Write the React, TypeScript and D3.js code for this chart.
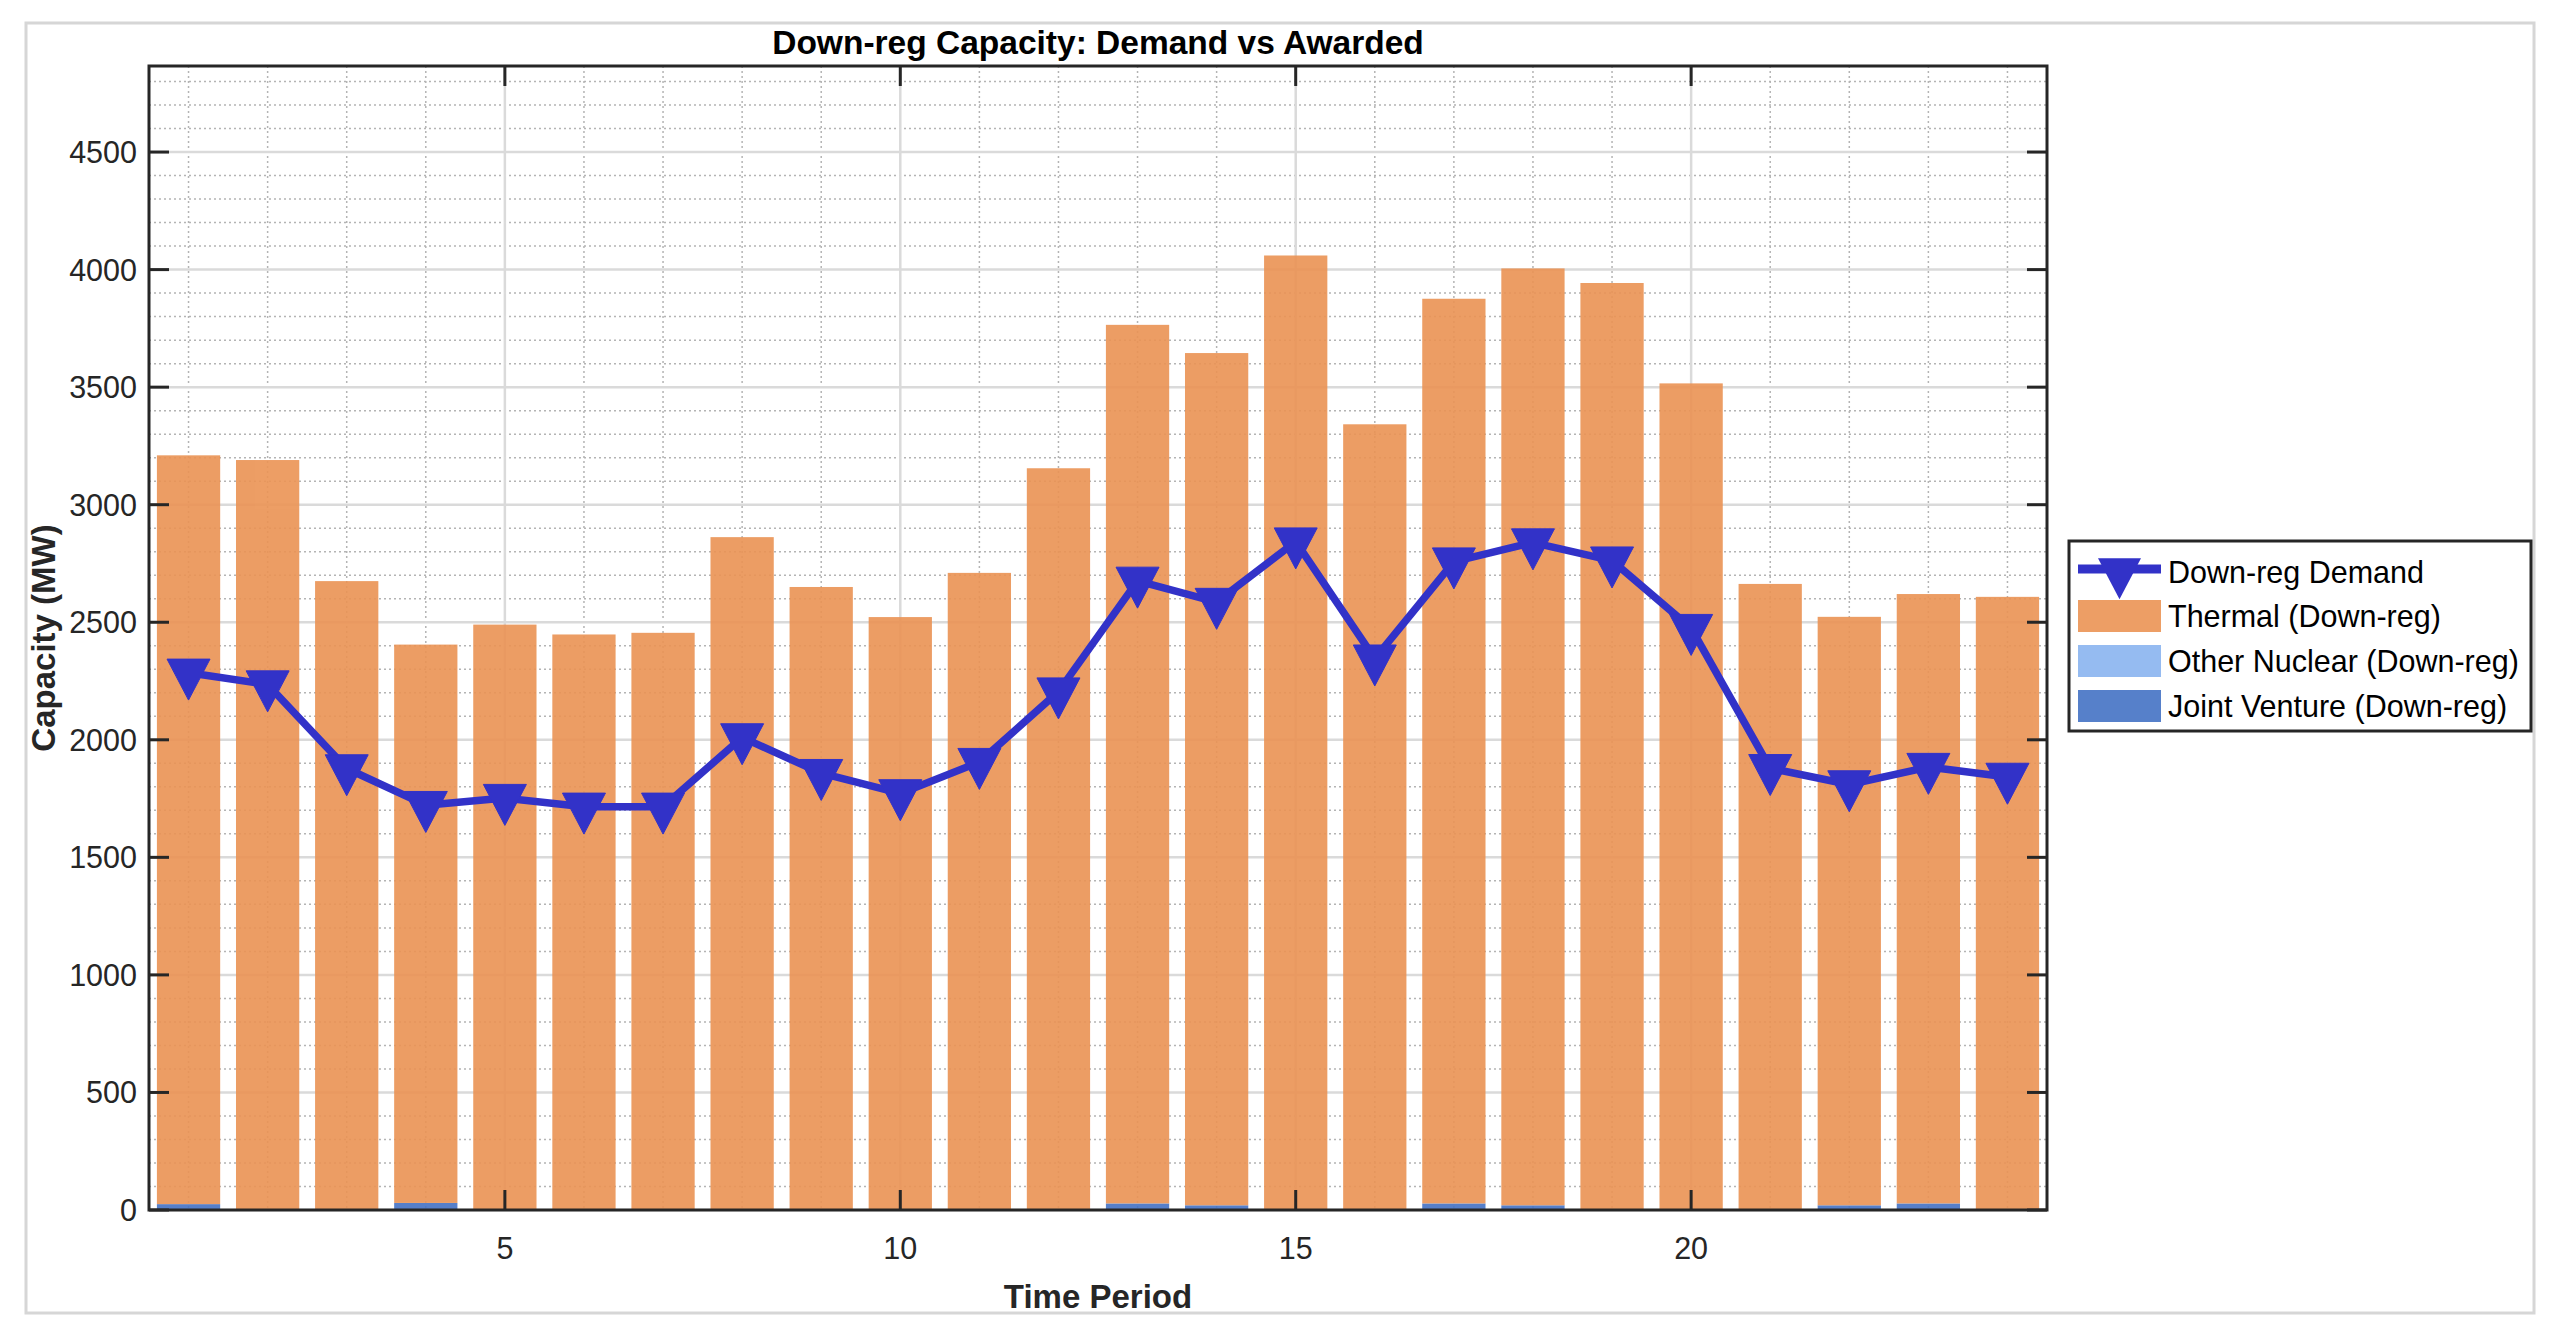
import React from "react";
import * as d3 from "d3";

// ---- Data ----
const periods: number[] = Array.from({ length: 24 }, (_, i) => i + 1);
const barTotals: number[] = [3210, 3190, 2675, 2405, 2490, 2448, 2455, 2862, 2650, 2522, 2710, 3155, 3765, 3645, 4060, 3342, 3876, 4005, 3943, 3516, 2663, 2523, 2620, 2608];
const jointVenture: number[] = [25, 0, 0, 30, 0, 0, 0, 0, 0, 0, 0, 0, 28, 20, 0, 0, 28, 20, 0, 0, 0, 20, 28, 0];
const otherNuclear: number[] = [0, 0, 0, 0, 0, 0, 0, 0, 0, 0, 0, 0, 0, 0, 0, 0, 0, 0, 0, 0, 0, 0, 0, 0];
const thermal: number[] = barTotals.map((t, i) => t - jointVenture[i] - otherNuclear[i]);
const demand: number[] = [2285, 2235, 1878, 1722, 1752, 1715, 1715, 2010, 1858, 1772, 1905, 2205, 2676, 2586, 2843, 2345, 2758, 2839, 2762, 2475, 1879, 1810, 1884, 1842];

const yTicks: number[] = [0, 500, 1000, 1500, 2000, 2500, 3000, 3500, 4000, 4500];
const xTicks: number[] = [5, 10, 15, 20];
const legendLabels: string[] = ["Down-reg Demand", "Thermal (Down-reg)", "Other Nuclear (Down-reg)", "Joint Venture (Down-reg)"];
const titleText = "Down-reg Capacity: Demand vs Awarded";
const xLabel = "Time Period";
const yLabel = "Capacity (MW)";
const yMax = 4866;

const COLORS = {
  thermal: "#eb9354",
  nuclear: "#8ab4f0",
  jv: "#4472c4",
  demand: "#3232c8",
};

const FONT = "'Liberation Sans', Arial, Helvetica, sans-serif";

export default function App() {
  const W = 2555, H = 1338;
  const L = 149, R = 2047, T = 66, B = 1210;
  const x = d3.scaleLinear().domain([0.5, 24.5]).range([L, R]);
  const y = d3.scaleLinear().domain([0, yMax]).range([B, T]);
  const bw = x(1.8) - x(1); // 0.8 unit bar width

  const minorY = d3.range(100, yMax, 100).filter((v) => v % 500 !== 0);
  const minorX = periods.filter((p) => p % 5 !== 0);

  const lineGen = d3
    .line<number>()
    .x((_, i) => x(periods[i]))
    .y((d) => y(d));

  const tri = (cx: number, cy: number) => {
    const hw = 21.5, up = 13.7, down = 27.3;
    return `M${cx - hw},${cy - up}L${cx + hw},${cy - up}L${cx},${cy + down}Z`;
  };

  const tickLen = 20;

  // Legend geometry
  const lgX = 2069, lgY = 541, lgW = 462, lgH = 190;
  const rowY = [572, 616, 661, 706];
  const swX = 2078, swW = 83, swH = 32;
  const txtX = 2168;

  return (
    <svg
      width={W}
      height={H}
      style={{ position: "absolute", left: 0, top: 0, background: "#fff" }}
      fontFamily={FONT}
    >
      <rect x={0} y={0} width={W} height={H} fill="#fff" />
      {/* outer frame */}
      <rect x={26} y={23} width={2534 - 26} height={1313 - 23} fill="none" stroke="#d6d6d6" strokeWidth={3} />

      {/* minor grid */}
      <g stroke="#b4b4b4" strokeWidth={1.5} strokeDasharray="2,3">
        {minorY.map((v) => (
          <line key={"my" + v} x1={L} x2={R} y1={y(v)} y2={y(v)} />
        ))}
        {minorX.map((v) => (
          <line key={"mx" + v} x1={x(v)} x2={x(v)} y1={T} y2={B} />
        ))}
      </g>
      {/* major grid */}
      <g stroke="#dadada" strokeWidth={2.5}>
        {yTicks.map((v) => (
          <line key={"gy" + v} x1={L} x2={R} y1={y(v)} y2={y(v)} />
        ))}
        {xTicks.map((v) => (
          <line key={"gx" + v} x1={x(v)} x2={x(v)} y1={T} y2={B} />
        ))}
      </g>

      {/* stacked bars */}
      <g opacity={0.9}>
        {periods.map((p, i) => {
          const x0 = x(p) - bw / 2;
          const b0 = 0;
          const b1 = jointVenture[i];
          const b2 = b1 + otherNuclear[i];
          const b3 = b2 + thermal[i];
          return (
            <g key={"bar" + p}>
              {jointVenture[i] > 0 && (
                <rect x={x0} y={y(b1)} width={bw} height={y(b0) - y(b1)} fill={COLORS.jv} />
              )}
              {otherNuclear[i] > 0 && (
                <rect x={x0} y={y(b2)} width={bw} height={y(b1) - y(b2)} fill={COLORS.nuclear} />
              )}
              <rect x={x0} y={y(b3)} width={bw} height={y(b2) - y(b3)} fill={COLORS.thermal} />
            </g>
          );
        })}
      </g>

      {/* demand line */}
      <path d={lineGen(demand) || ""} fill="none" stroke={COLORS.demand} strokeWidth={7.5} strokeLinejoin="round" />
      {demand.map((d, i) => (
        <path key={"m" + i} d={tri(x(periods[i]), y(d))} fill={COLORS.demand} stroke={COLORS.demand} strokeWidth={1} />
      ))}

      {/* axes box */}
      <rect x={L} y={T} width={R - L} height={B - T} fill="none" stroke="#262626" strokeWidth={3} />
      <g stroke="#262626" strokeWidth={3}>
        {yTicks.map((v) => (
          <g key={"ty" + v}>
            <line x1={L} x2={L + tickLen} y1={y(v)} y2={y(v)} />
            <line x1={R} x2={R - tickLen} y1={y(v)} y2={y(v)} />
          </g>
        ))}
        {xTicks.map((v) => (
          <g key={"tx" + v}>
            <line x1={x(v)} x2={x(v)} y1={B} y2={B - tickLen} />
            <line x1={x(v)} x2={x(v)} y1={T} y2={T + tickLen} />
          </g>
        ))}
      </g>

      {/* tick labels */}
      <g fill="#262626" fontSize={30.5}>
        {yTicks.map((v) => (
          <text key={"ly" + v} x={L - 12} y={y(v)} dy="0.36em" textAnchor="end">
            {v}
          </text>
        ))}
        {xTicks.map((v) => (
          <text key={"lx" + v} x={x(v)} y={1259} textAnchor="middle">
            {v}
          </text>
        ))}
      </g>

      {/* title and axis labels */}
      <text x={(L + R) / 2} y={54} textAnchor="middle" fontSize={33.5} fontWeight="bold" fill="#000">
        {titleText}
      </text>
      <text x={(L + R) / 2} y={1308} textAnchor="middle" fontSize={33} fontWeight="bold" fill="#262626">
        {xLabel}
      </text>
      <text
        transform={`translate(55, ${(T + B) / 2}) rotate(-90)`}
        textAnchor="middle"
        fontSize={33}
        fontWeight="bold"
        fill="#262626"
      >
        {yLabel}
      </text>

      {/* legend */}
      <rect x={lgX} y={lgY} width={lgW} height={lgH} fill="#fff" stroke="#262626" strokeWidth={3} />
      <line x1={swX} x2={swX + swW} y1={rowY[0] - 3} y2={rowY[0] - 3} stroke={COLORS.demand} strokeWidth={9} />
      <path d={tri(swX + swW / 2, rowY[0])} fill={COLORS.demand} />
      <rect x={swX} y={rowY[1] - swH / 2} width={swW} height={swH} fill={COLORS.thermal} opacity={0.9} />
      <rect x={swX} y={rowY[2] - swH / 2} width={swW} height={swH} fill={COLORS.nuclear} opacity={0.9} />
      <rect x={swX} y={rowY[3] - swH / 2} width={swW} height={swH} fill={COLORS.jv} opacity={0.9} />
      <g fontSize={30.5} fill="#000">
        {legendLabels.map((t, i) => (
          <text key={"lg" + i} x={txtX} y={rowY[i]} dy="0.36em">
            {t}
          </text>
        ))}
      </g>
    </svg>
  );
}
